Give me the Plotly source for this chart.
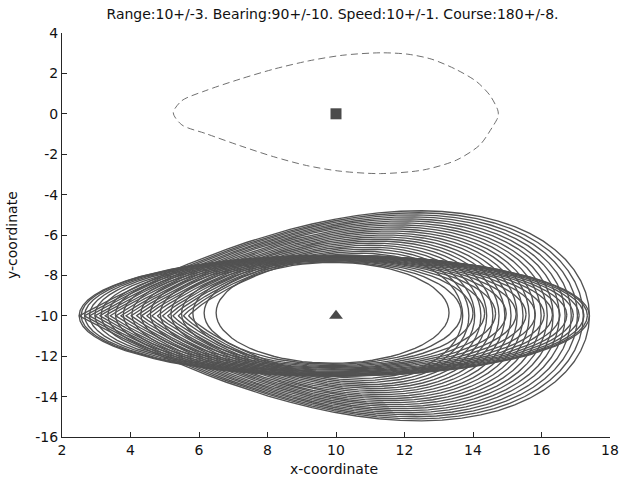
import numpy as np
import plotly.graph_objects as go

# ---------------- data ----------------
title_text = "Range:10+/-3. Bearing:90+/-10. Speed:10+/-1. Course:180+/-8."
x_label = "x-coordinate"
y_label = "y-coordinate"
x_ticks = [2, 4, 6, 8, 10, 12, 14, 16, 18]
y_ticks = [4, 2, 0, -2, -4, -6, -8, -10, -12, -14, -16]

# nominal start position (square) and predicted position (triangle)
start_x = [10]
start_y = [0]
pred_x = [10]
pred_y = [-10]

# dashed start-position uncertainty boundary (read point by point)
dash_x = [5.25, 5.50, 6.20, 7.20, 8.20, 9.20, 10.20, 11.30, 12.10, 12.80,
          13.50, 14.10, 14.50, 14.72, 14.74, 14.72, 14.55, 14.20, 13.52, 12.55,
          11.30, 10.12, 9.14, 8.17, 7.20, 6.20, 5.50, 5.25]
dash_y = [0.05, 0.65, 1.15, 1.72, 2.22, 2.62, 2.90, 3.02, 2.95, 2.70,
          2.20, 1.60, 0.90, 0.20, 0.00, -0.20, -0.70, -1.54, -2.29, -2.78,
          -2.96, -2.84, -2.56, -2.12, -1.58, -0.98, -0.55, 0.05]

# predicted-position rings, family 1: rounded (ellipse-like) rings
round_left = [6.50, 6.15, 5.82, 5.49, 5.18, 4.87, 4.58, 4.30, 4.04, 3.79, 3.56, 3.34,
              3.14, 2.96, 2.80, 2.66, 2.56, 2.50]
round_right = [13.30, 13.66, 14.00, 14.34, 14.66, 14.97, 15.26, 15.55, 15.82, 16.08,
               16.32, 16.54, 16.74, 16.93, 17.10, 17.24, 17.34, 17.40]
round_half_height = [2.50, 2.54, 2.59, 2.63, 2.67, 2.70, 2.74, 2.77, 2.81, 2.84, 2.87,
                     2.90, 2.92, 2.94, 2.96, 2.98, 2.99, 3.00]
round_mid_y = [-9.85, -9.86, -9.87, -9.88, -9.89, -9.90, -9.91, -9.92, -9.93, -9.94,
               -9.95, -9.96, -9.97, -9.97, -9.98, -9.99, -9.99, -10.00]

# predicted-position rings, family 2: pointed (teardrop) rings
tear_left = [5.70, 5.55, 5.40, 5.24, 5.09, 4.94, 4.79, 4.63, 4.48, 4.33, 4.18, 4.02,
             3.87, 3.72, 3.57, 3.41, 3.26, 3.11, 2.96, 2.80, 2.65, 2.50]
tear_right = [13.70, 13.88, 14.05, 14.23, 14.40, 14.58, 14.76, 14.93, 15.11, 15.29,
              15.46, 15.64, 15.81, 15.99, 16.17, 16.34, 16.52, 16.69, 16.87, 17.05,
              17.22, 17.40]
tear_half_height = [3.10, 3.20, 3.30, 3.40, 3.50, 3.60, 3.70, 3.80, 3.90, 4.00, 4.10,
                    4.20, 4.30, 4.40, 4.50, 4.60, 4.70, 4.80, 4.90, 5.00, 5.10, 5.20]
tear_sharpness = [0.70, 0.71, 0.73, 0.74, 0.76, 0.77, 0.79, 0.80, 0.81, 0.83, 0.84,
                  0.86, 0.87, 0.89, 0.90, 0.91, 0.93, 0.94, 0.96, 0.97, 0.99, 1.00]

# ---------------- build figure ----------------
RING_COLOR = "#525252"
AXIS_COLOR = "#262626"
TEXT_COLOR = "#111111"
FONT = "DejaVu Sans"

t = np.linspace(0.0, 2.0 * np.pi, 73)
t_dense = np.linspace(0.0, np.pi, 721)


def ring_xy(left, right, half_h, mid_y, sharp):
    xc = 0.5 * (left + right)
    a = 0.5 * (right - left)
    prof = np.sin(t_dense) * ((1 + np.cos(t_dense)) / 2) ** (sharp / 2)
    b = half_h / prof.max()
    c = np.cos(t)
    x = xc + a * c
    y = mid_y + b * np.sin(t) * np.clip((1 + c) / 2, 0, None) ** (sharp / 2)
    return x, y


rx, ry = [], []
for L, R, H, M in zip(round_left, round_right, round_half_height, round_mid_y):
    xr, yr = ring_xy(L, R, H, M, 0.0)
    rx.extend(xr.tolist() + [None])
    ry.extend(yr.tolist() + [None])
for L, R, H, S in zip(tear_left, tear_right, tear_half_height, tear_sharpness):
    xr, yr = ring_xy(L, R, H, pred_y[0], S)
    rx.extend(xr.tolist() + [None])
    ry.extend(yr.tolist() + [None])

fig = go.Figure()
fig.add_trace(go.Scatter(x=rx, y=ry, mode="lines",
                         line=dict(color=RING_COLOR, width=1.35),
                         hoverinfo="skip", showlegend=False))
fig.add_trace(go.Scatter(x=dash_x, y=dash_y, mode="lines",
                         line=dict(color="#707070", width=1, dash="7px,4px", shape="spline",
                                   smoothing=0.8),
                         hoverinfo="skip", showlegend=False))
fig.add_trace(go.Scatter(x=start_x, y=start_y, mode="markers",
                         marker=dict(symbol="square", size=11, color="#4a4a4a"),
                         hoverinfo="skip", showlegend=False))
fig.add_trace(go.Scatter(x=pred_x, y=pred_y, mode="markers",
                         marker=dict(symbol="triangle-up", size=12, color="#4a4a4a"),
                         hoverinfo="skip", showlegend=False))

axis_common = dict(showgrid=False, zeroline=False, showline=True, linecolor=AXIS_COLOR,
                   linewidth=1, ticks="inside", ticklen=5, tickcolor=AXIS_COLOR,
                   tickfont=dict(family=FONT, size=14, color=TEXT_COLOR), mirror=False,
                   automargin=False, fixedrange=True)

fig.update_layout(
    width=620, height=478,
    margin=dict(l=62, r=10, t=33, b=41, autoexpand=False),
    paper_bgcolor="white", plot_bgcolor="white",
    hovermode=False,
    title=dict(text=title_text, x=332.5 / 620, xanchor="center", y=1 - 14 / 478,
               yanchor="middle", font=dict(family=FONT, size=14, color=TEXT_COLOR)),
    xaxis=dict(range=[2, 18], tickvals=x_ticks, ticktext=[str(v) for v in x_ticks],
               **axis_common),
    yaxis=dict(range=[-16, 4], tickvals=y_ticks, ticktext=[str(v) for v in y_ticks],
               **axis_common),
    annotations=[
        dict(text=x_label, xref="paper", yref="paper", x=(334 - 62) / 548,
             y=-(469 - 437) / 404, xanchor="center", yanchor="middle", showarrow=False,
             font=dict(family=FONT, size=14, color=TEXT_COLOR)),
        dict(text=y_label, xref="paper", yref="paper", x=-(62 - 12) / 548, y=0.5,
             xanchor="center", yanchor="middle", showarrow=False, textangle=-90,
             font=dict(family=FONT, size=14, color=TEXT_COLOR)),
    ],
)

fig.write_html("out.html", config={"displayModeBar": False, "staticPlot": True},
               post_script="document.body.style.margin='0';"
                           "document.body.style.overflow='hidden';")
